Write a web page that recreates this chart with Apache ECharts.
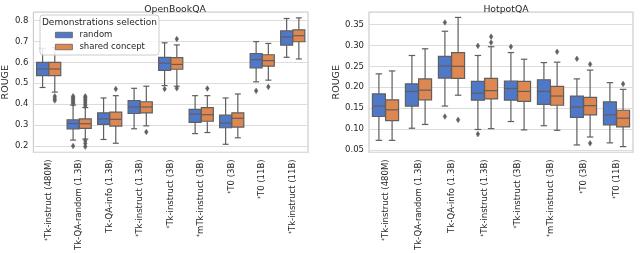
<!DOCTYPE html>
<html>
<head>
<meta charset="utf-8">
<script src="https://cdn.jsdelivr.net/npm/echarts@6/dist/echarts.min.js"></script>
<style>html,body{margin:0;padding:0;background:#fff;}#c{width:640px;height:253px;}</style>
</head>
<body>
<div id="c"></div>
<script>
// ---- data ----
const obqaCategories = ['*Tk-instruct (480M)', 'Tk-QA-random (1.3B)', 'Tk-QA-info (1.3B)', '*Tk-instruct (1.3B)', '*Tk-instruct (3B)', '*mTk-instruct (3B)', '*T0 (3B)', '*T0 (11B)', '*Tk-instruct (11B)'];
const hotpotCategories = ['*Tk-instruct (480M)', 'Tk-QA-random (1.3B)', 'Tk-QA-info (1.3B)', '*Tk-instruct (1.3B)', '*Tk-instruct (3B)', '*mTk-instruct (3B)', '*T0 (3B)', '*T0 (11B)'];
const seriesNames = ['random', 'shared concept'];

// [whisker low, Q1, median, Q3, whisker high]
const obqaRandom = [
  [0.480, 0.537, 0.568, 0.600, 0.667],
  [0.229, 0.282, 0.308, 0.326, 0.396],
  [0.232, 0.304, 0.330, 0.359, 0.430],
  [0.283, 0.356, 0.387, 0.418, 0.476],
  [0.489, 0.562, 0.596, 0.624, 0.693],
  [0.260, 0.314, 0.353, 0.376, 0.441],
  [0.209, 0.288, 0.310, 0.348, 0.430],
  [0.507, 0.573, 0.613, 0.642, 0.699],
  [0.624, 0.682, 0.721, 0.750, 0.809]
];
const obqaShared = [
  [0.458, 0.537, 0.568, 0.600, 0.670],
  [0.234, 0.285, 0.307, 0.330, 0.384],
  [0.214, 0.296, 0.328, 0.362, 0.441],
  [0.297, 0.359, 0.387, 0.412, 0.486],
  [0.486, 0.567, 0.590, 0.622, 0.683],
  [0.265, 0.319, 0.350, 0.384, 0.441],
  [0.240, 0.291, 0.333, 0.359, 0.449],
  [0.515, 0.582, 0.608, 0.636, 0.690],
  [0.616, 0.698, 0.727, 0.755, 0.812]
];
// [category index, value]
const obqaRandomOutliers = [
  [1, 0.403], [1, 0.409], [1, 0.415], [1, 0.421], [1, 0.427], [1, 0.433], [1, 0.438], [1, 0.201],
  [4, 0.473], [7, 0.464]
];
const obqaSharedOutliers = [
  [0, 0.438], [0, 0.427], [0, 0.418],
  [1, 0.392], [1, 0.400], [1, 0.409], [1, 0.418], [1, 0.425], [1, 0.432], [1, 0.438],
  [1, 0.226], [1, 0.213], [1, 0.198],
  [2, 0.473], [3, 0.268], [4, 0.711], [4, 0.476], [5, 0.475], [7, 0.483]
];

const hotpotRandom = [
  [0.073, 0.130, 0.155, 0.184, 0.232],
  [0.102, 0.155, 0.190, 0.208, 0.276],
  [0.155, 0.222, 0.251, 0.274, 0.334],
  [0.099, 0.169, 0.186, 0.214, 0.276],
  [0.118, 0.169, 0.197, 0.215, 0.283],
  [0.108, 0.159, 0.190, 0.218, 0.259],
  [0.062, 0.128, 0.153, 0.179, 0.220],
  [0.067, 0.110, 0.134, 0.165, 0.211]
];
const hotpotShared = [
  [0.073, 0.120, 0.146, 0.170, 0.239],
  [0.111, 0.170, 0.193, 0.220, 0.292],
  [0.181, 0.221, 0.250, 0.283, 0.367],
  [0.101, 0.172, 0.192, 0.221, 0.297],
  [0.098, 0.166, 0.190, 0.214, 0.267],
  [0.097, 0.157, 0.179, 0.202, 0.260],
  [0.081, 0.134, 0.156, 0.176, 0.241],
  [0.058, 0.105, 0.126, 0.145, 0.195]
];
const hotpotRandomOutliers = [
  [2, 0.355], [2, 0.130], [3, 0.299], [3, 0.088], [4, 0.297], [6, 0.268]
];
const hotpotSharedOutliers = [
  [2, 0.122], [3, 0.321], [3, 0.307], [5, 0.285], [6, 0.255], [6, 0.066], [7, 0.208]
];

// ---- styling ----
const BLUE = '#5078c8';
const ORANGE = '#df8751';
const LINE = '#5f5f5f';
const FONT = 'DejaVu Sans';
const TXT = '#262626';

function boxRender(side, fill) {
  return function (params, api) {
    const idx = api.value(0);
    const band = api.size([1, 0])[0];
    const cx = api.coord([idx, 0])[0] + side * 0.2 * band;
    const w = 0.392 * band;
    const yMin = api.coord([idx, api.value(1)])[1];
    const yQ1 = api.coord([idx, api.value(2)])[1];
    const yMed = api.coord([idx, api.value(3)])[1];
    const yQ3 = api.coord([idx, api.value(4)])[1];
    const yMax = api.coord([idx, api.value(5)])[1];
    const ls = { stroke: LINE, lineWidth: 1.2, fill: null };
    const cap = w / 4;
    return {
      type: 'group',
      children: [
        { type: 'line', shape: { x1: cx, y1: yQ1, x2: cx, y2: yMin }, style: ls },
        { type: 'line', shape: { x1: cx, y1: yQ3, x2: cx, y2: yMax }, style: ls },
        { type: 'line', shape: { x1: cx - cap, y1: yMin, x2: cx + cap, y2: yMin }, style: ls },
        { type: 'line', shape: { x1: cx - cap, y1: yMax, x2: cx + cap, y2: yMax }, style: ls },
        { type: 'rect', shape: { x: cx - w / 2, y: yQ3, width: w, height: yQ1 - yQ3 }, style: { fill: fill, stroke: LINE, lineWidth: 1.2 } },
        { type: 'line', shape: { x1: cx - w / 2, y1: yMed, x2: cx + w / 2, y2: yMed }, style: ls }
      ]
    };
  };
}
function outlierRender(side) {
  return function (params, api) {
    const idx = api.value(0);
    const band = api.size([1, 0])[0];
    const p = api.coord([idx, api.value(1)]);
    const cx = p[0] + side * 0.2 * band;
    const cy = p[1];
    const hw = 1.8, hh = 2.8;
    return {
      type: 'polygon',
      shape: { points: [[cx, cy - hh], [cx + hw, cy], [cx, cy + hh], [cx - hw, cy]] },
      style: { fill: LINE, stroke: LINE, lineWidth: 0.5 }
    };
  };
}
function boxSeries(name, data, side, fill, gi) {
  return {
    type: 'custom', name: name, xAxisIndex: gi, yAxisIndex: gi, z: 3,
    itemStyle: { color: fill, borderColor: LINE, borderWidth: 1 },
    renderItem: boxRender(side, fill),
    encode: { x: 0, y: [1, 2, 3, 4, 5] },
    data: data.map((s, i) => [i].concat(s))
  };
}
function outlierSeries(name, data, side, gi) {
  return {
    type: 'custom', name: name, xAxisIndex: gi, yAxisIndex: gi, z: 3,
    renderItem: outlierRender(side),
    encode: { x: 0, y: 1 },
    data: data
  };
}
function labelFmt(v) {
  return v.charAt(0) === '*' ? '{s|*}' + v.slice(1) : v;
}
function xAxisFor(cats, gi) {
  return {
    type: 'category', gridIndex: gi, data: cats,
    axisLine: { show: false }, axisTick: { show: false }, splitLine: { show: false },
    axisLabel: {
      rotate: 90, interval: 0, margin: 7, fontSize: 8.5, color: TXT, fontFamily: FONT,
      formatter: labelFmt,
      rich: { s: { fontSize: 6, verticalAlign: 'top', color: TXT, fontFamily: FONT } }
    }
  };
}
function yAxisFor(gi, min, max, step, digits, gap) {
  return {
    type: 'value', gridIndex: gi, min: min, max: max, minInterval: step, maxInterval: step,
    name: 'ROUGE', nameLocation: 'middle', nameGap: gap,
    nameTextStyle: { fontSize: 9.5, color: TXT, fontFamily: FONT },
    axisLine: { show: false }, axisTick: { show: false },
    splitLine: { show: true, lineStyle: { color: '#dcdcdc', width: 1 } },
    axisLabel: {
      fontSize: 8.5, color: TXT, fontFamily: FONT, margin: 5,
      formatter: function (v) {
        const k = v / step;
        if (Math.abs(k - Math.round(k)) > 1e-6) return '';
        return v.toFixed(digits);
      }
    }
  };
}

const chart = echarts.init(document.getElementById('c'), null, { renderer: 'canvas' });
chart.setOption({
  backgroundColor: '#ffffff',
  animation: false,
  textStyle: { fontFamily: FONT },
  title: [
    { text: 'OpenBookQA', left: 170, top: 0, textAlign: 'center', textStyle: { fontSize: 9.3, fontWeight: 'normal', color: TXT, fontFamily: FONT } },
    { text: 'HotpotQA', left: 501, top: 0, textAlign: 'center', textStyle: { fontSize: 9.3, fontWeight: 'normal', color: TXT, fontFamily: FONT } }
  ],
  grid: [
    { left: 32, top: 12, width: 276, height: 144, show: true, borderColor: '#cccccc', borderWidth: 1.2, backgroundColor: 'transparent' },
    { left: 369, top: 12, width: 264, height: 144, show: true, borderColor: '#cccccc', borderWidth: 1.2, backgroundColor: 'transparent' }
  ],
  xAxis: [xAxisFor(obqaCategories, 0), xAxisFor(hotpotCategories, 1)],
  yAxis: [yAxisFor(0, 0.17, 0.84, 0.1, 1, 21), yAxisFor(1, 0.044, 0.38, 0.05, 2, 27)],
  legend: {
    data: seriesNames, orient: 'vertical', left: 55, top: 29, padding: 0, z: 12,
    icon: 'rect', itemWidth: 17, itemHeight: 5.5, itemGap: 0,
    itemStyle: { borderColor: LINE, borderWidth: 0.8 },
    textStyle: { fontSize: 8.5, color: TXT, fontFamily: FONT, lineHeight: 12, padding: [0, 0, 0, 2] },
    selectedMode: false
  },
  graphic: [
    { type: 'rect', z: 10, shape: { x: 40, y: 15, width: 119, height: 40, r: 3 }, style: { fill: 'rgba(255,255,255,0.85)', stroke: '#cccccc', lineWidth: 1 } },
    { type: 'text', z: 11, style: { x: 99.5, y: 23, text: 'Demonstrations selection', textAlign: 'center', textVerticalAlign: 'middle', fontSize: 9, fill: TXT, fontFamily: FONT } }
  ],
  series: [
    boxSeries('random', obqaRandom, -1, BLUE, 0),
    boxSeries('shared concept', obqaShared, 1, ORANGE, 0),
    outlierSeries('random', obqaRandomOutliers, -1, 0),
    outlierSeries('shared concept', obqaSharedOutliers, 1, 0),
    boxSeries('random', hotpotRandom, -1, BLUE, 1),
    boxSeries('shared concept', hotpotShared, 1, ORANGE, 1),
    outlierSeries('random', hotpotRandomOutliers, -1, 1),
    outlierSeries('shared concept', hotpotSharedOutliers, 1, 1)
  ]
});
</script>
</body>
</html>
